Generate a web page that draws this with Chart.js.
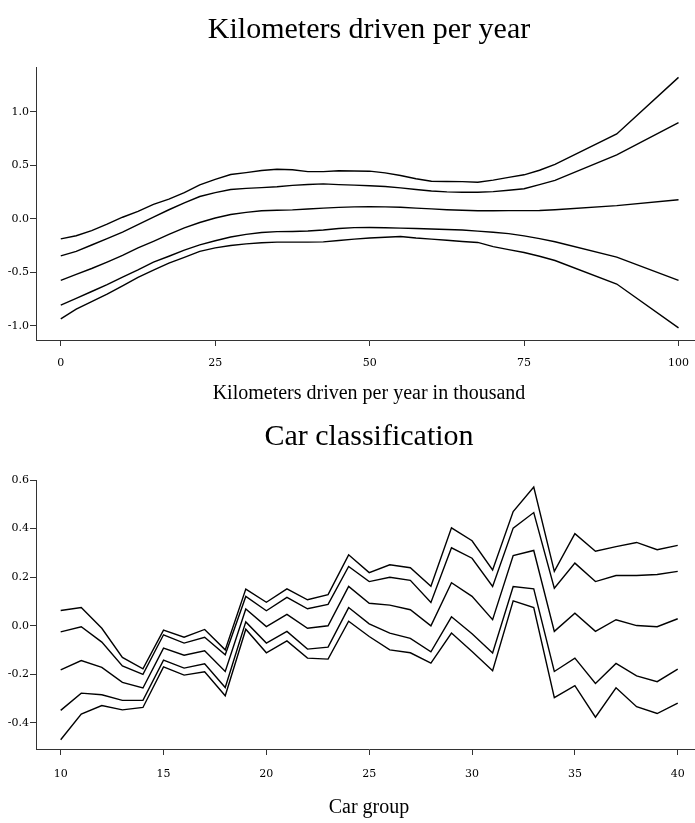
<!DOCTYPE html>
<html>
<head>
<meta charset="utf-8">
<script src="https://cdn.jsdelivr.net/npm/chart.js@4"></script>
<style>
  html, body { margin:0; padding:0; background:#fff; overflow:hidden; width:695px; height:823px; }
  canvas { display:block; }
</style>
</head>
<body>
<canvas id="km" width="702" height="410"></canvas>
<canvas id="grp" width="702" height="413"></canvas>
<script>
/* Two partial-effect panels: km driven per year, and car group. */
const KM = [0,2.5,5,7.5,10,12.5,15,17.5,20,22.5,25,27.5,30,32.5,35,37.5,40,42.5,45,47.5,50,52.5,55,57.5,60,62.5,65,67.5,70,72.5,75,77.5,80,90,100];
const KM_UP2  = [-0.187,-0.158,-0.11,-0.05,0.015,0.07,0.135,0.185,0.245,0.318,0.37,0.415,0.432,0.452,0.464,0.46,0.442,0.442,0.45,0.448,0.446,0.43,0.405,0.375,0.352,0.35,0.348,0.343,0.362,0.388,0.412,0.455,0.51,0.794,1.324];
const KM_UP1  = [-0.346,-0.305,-0.245,-0.185,-0.124,-0.055,0.017,0.085,0.15,0.209,0.245,0.275,0.285,0.292,0.3,0.313,0.322,0.327,0.32,0.315,0.31,0.303,0.29,0.275,0.26,0.252,0.249,0.249,0.255,0.268,0.282,0.32,0.36,0.598,0.90];
const KM_FIT  = [-0.576,-0.52,-0.465,-0.405,-0.342,-0.272,-0.21,-0.146,-0.085,-0.034,0.008,0.04,0.06,0.075,0.08,0.084,0.092,0.1,0.107,0.112,0.113,0.112,0.108,0.1,0.093,0.085,0.08,0.075,0.076,0.077,0.077,0.078,0.085,0.124,0.178];
const KM_LO1  = [-0.807,-0.745,-0.68,-0.615,-0.545,-0.478,-0.405,-0.35,-0.293,-0.243,-0.205,-0.17,-0.145,-0.128,-0.12,-0.118,-0.114,-0.105,-0.09,-0.082,-0.081,-0.083,-0.087,-0.091,-0.095,-0.1,-0.104,-0.115,-0.125,-0.138,-0.16,-0.185,-0.215,-0.358,-0.576];
const KM_LO2  = [-0.937,-0.845,-0.775,-0.705,-0.628,-0.548,-0.48,-0.415,-0.36,-0.305,-0.272,-0.25,-0.234,-0.224,-0.218,-0.218,-0.218,-0.216,-0.203,-0.19,-0.18,-0.172,-0.165,-0.18,-0.19,-0.2,-0.212,-0.221,-0.26,-0.288,-0.315,-0.35,-0.39,-0.61,-1.02];
const KM_XTICKS = [0,25,50,75,100];
const KM_YTICKS = [-1,-0.5,0,0.5,1];

const GROUPS = [10,11,12,13,14,15,16,17,18,19,20,21,22,23,24,25,26,27,28,29,30,31,32,33,34,35,36,37,38,39,40];
const CG_UP2 = [0.063,0.075,-0.01,-0.13,-0.177,-0.018,-0.047,-0.015,-0.099,0.151,0.097,0.152,0.107,0.128,0.292,0.219,0.251,0.239,0.163,0.403,0.35,0.23,0.47,0.571,0.224,0.379,0.307,0.326,0.343,0.313,0.331];
const CG_UP1 = [-0.025,-0.004,-0.067,-0.165,-0.2,-0.037,-0.071,-0.047,-0.119,0.121,0.062,0.117,0.07,0.088,0.244,0.182,0.2,0.187,0.096,0.321,0.278,0.162,0.402,0.466,0.155,0.258,0.182,0.207,0.207,0.211,0.224];
const CG_FIT = [-0.181,-0.143,-0.171,-0.233,-0.256,-0.092,-0.121,-0.103,-0.188,0.069,-0.003,0.047,-0.01,0.0,0.162,0.093,0.085,0.066,0.0,0.177,0.121,0.025,0.289,0.31,-0.023,0.052,-0.023,0.025,0.001,-0.004,0.029];
const CG_LO1 = [-0.348,-0.277,-0.284,-0.307,-0.307,-0.141,-0.174,-0.156,-0.254,0.016,-0.071,-0.023,-0.096,-0.088,0.075,0.008,-0.03,-0.052,-0.107,0.037,-0.033,-0.112,0.162,0.152,-0.188,-0.133,-0.237,-0.155,-0.206,-0.23,-0.178];
const CG_LO2 = [-0.469,-0.363,-0.328,-0.346,-0.336,-0.169,-0.203,-0.189,-0.288,-0.014,-0.111,-0.062,-0.133,-0.137,0.019,-0.044,-0.099,-0.111,-0.154,-0.03,-0.106,-0.185,0.103,0.075,-0.296,-0.246,-0.376,-0.255,-0.333,-0.361,-0.318];
const CG_XTICKS = [10,15,20,25,30,35,40];
const CG_YTICKS = [-0.4,-0.2,0,0.2,0.4,0.6];

Chart.defaults.font.family = "'DejaVu Serif', serif";
Chart.defaults.color = "#000";
const SERIF = "'Liberation Serif', 'Times New Roman', serif";
const AXIS = "#333";

function lines(xs, series){
  return series.map(s => ({
    data: xs.map((x,i) => ({ x, y: s[i] })),
    borderColor: "#000", borderWidth: 1.4, pointRadius: 0, tension: 0, fill: false
  }));
}

function panel(id, o){
  return new Chart(document.getElementById(id), {
    type: "line",
    data: { datasets: lines(o.xs, o.series) },
    options: {
      responsive: false, animation: false,
      layout: { padding: 0 },
      plugins: {
        legend: { display: false }, tooltip: { enabled: false },
        title: { display: true, text: o.title, fullSize: false, color: "#000",
          font: { family: SERIF, size: 30, weight: "normal" },
          padding: { top: o.titleTop, bottom: o.titleBottom } }
      },
      scales: {
        x: { type: "linear", min: o.xr[0], max: o.xr[1],
          afterBuildTicks: s => { s.ticks = o.xt.map(v => ({ value: v })); },
          afterFit: s => { s.height = o.xHeight; },
          border: { display: true, color: AXIS, width: 1 },
          grid: { drawOnChartArea: false, tickLength: 6, color: AXIS },
          ticks: { padding: o.xTickPad, autoSkip: false, maxRotation: 0,
            font: { size: 11 }, callback: v => String(v) },
          title: { display: true, text: o.xTitle, color: "#000",
            font: { family: SERIF, size: 20 }, padding: { top: 0, bottom: o.xTitleBottom } } },
        y: { type: "linear", min: o.yr[0], max: o.yr[1],
          afterBuildTicks: s => { s.ticks = o.yt.map(v => ({ value: v })); },
          afterFit: s => { s.width = 36; },
          border: { display: true, color: AXIS, width: 1 },
          grid: { drawOnChartArea: false, tickLength: 6, color: AXIS },
          ticks: { padding: 1, font: { size: 11 }, callback: v => v.toFixed(1) } }
      }
    }
  });
}

panel("km", {
  xs: KM, series: [KM_UP2, KM_UP1, KM_FIT, KM_LO1, KM_LO2],
  title: "Kilometers driven per year", titleTop: 12, titleBottom: 19,
  xTitle: "Kilometers driven per year in thousand", xTitleBottom: 4, xHeight: 70, xTickPad: 11,
  xr: [-4.01, 103.8], xt: KM_XTICKS, yr: [-1.134, 1.421], yt: KM_YTICKS
});

panel("grp", {
  xs: GROUPS, series: [CG_UP2, CG_UP1, CG_FIT, CG_LO1, CG_LO2],
  title: "Car classification", titleTop: 9, titleBottom: 25,
  xTitle: "Car group", xTitleBottom: 3, xHeight: 74, xTickPad: 13,
  xr: [8.8, 41.18], xt: CG_XTICKS, yr: [-0.507, 0.6], yt: CG_YTICKS
});
</script>
</body>
</html>
